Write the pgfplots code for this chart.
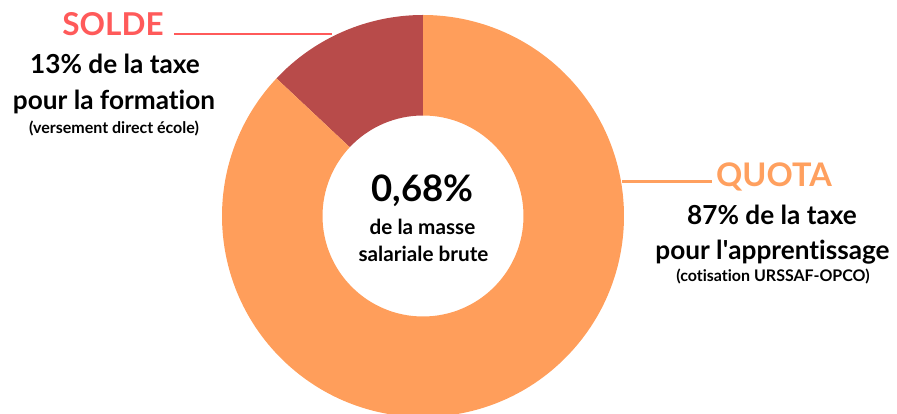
\documentclass[border=0pt]{standalone}
\usepackage{pgfplots}
\pgfplotsset{compat=1.18}
\usepackage{fontspec}
\setmainfont{Lato}[Ligatures={NoCommon}]
\definecolor{quota}{HTML}{FF9E5B}
\definecolor{solde}{HTML}{B84B4A}
\definecolor{soldetxt}{HTML}{FF5A5A}
\definecolor{quotatxt}{HTML}{FFA05F}
% data (share of the tax, %)
\def\valSolde{13}
\def\valQuota{87}
\pgfmathsetmacro{\aA}{90}
\pgfmathsetmacro{\aB}{90+3.6*\valSolde}
\pgfmathsetmacro{\aC}{\aB+3.6*\valQuota}
\def\cx{423}\def\cy{198}
\def\Ro{201pt}\def\Ri{100.5pt}
\begin{document}
\begin{tikzpicture}
\useasboundingbox (0,0) rectangle (897pt,414pt);
\clip (0,0) rectangle (897pt,414pt);
\begin{axis}[x=1pt,y=1pt,xmin=0,xmax=897,ymin=0,ymax=414,hide axis,clip=false,at={(0,0)},anchor=origin]
\fill[solde] ([shift={(\aA:\Ro)}]axis cs:\cx,\cy) arc[start angle=\aA,end angle=\aB,radius=\Ro]
  -- ([shift={(\aB:\Ri)}]axis cs:\cx,\cy) arc[start angle=\aB,end angle=\aA,radius=\Ri] -- cycle;
\fill[quota] ([shift={(\aB:\Ro)}]axis cs:\cx,\cy) arc[start angle=\aB,end angle=\aC,radius=\Ro]
  -- ([shift={(\aC:\Ri)}]axis cs:\cx,\cy) arc[start angle=\aC,end angle=\aB,radius=\Ri] -- cycle;
% leader lines
\draw[soldetxt,line width=2.6pt] (axis cs:174,380) -- (axis cs:332,380);
\draw[quotatxt,line width=2.6pt] (axis cs:622,232.3) -- (axis cs:712,232.3);
% left labels
\node[anchor=base,text=soldetxt,font=\fontsize{31.5}{36}\selectfont\bfseries,inner sep=0pt] at (axis cs:113,378) {SOLDE};
\node[anchor=base,font=\fontsize{26.2}{30}\selectfont\bfseries,inner sep=0pt] at (axis cs:115,340) {13\% de la taxe};
\node[anchor=base,font=\fontsize{26.2}{30}\selectfont\bfseries,inner sep=0pt] at (axis cs:114,304) {pour la formation};
\node[anchor=base,font=\fontsize{16}{18}\selectfont\bfseries,inner sep=0pt] at (axis cs:114,280.7) {(versement direct école)};
% right labels
\node[anchor=base,text=quotatxt,font=\fontsize{32.5}{36}\selectfont\bfseries,inner sep=0pt] at (axis cs:774,227.3) {QUOTA};
\node[anchor=base,font=\fontsize{26.2}{30}\selectfont\bfseries,inner sep=0pt] at (axis cs:772,189) {87\% de la taxe};
\node[anchor=base,font=\fontsize{26.2}{30}\selectfont\bfseries,inner sep=0pt] at (axis cs:772.5,154) {pour l\textquotesingle apprentissage};
\node[anchor=base,font=\fontsize{16}{18}\selectfont\bfseries,inner sep=0pt] at (axis cs:773,132) {(cotisation URSSAF-OPCO)};
% centre
\node[anchor=base,font=\fontsize{36.5}{40}\selectfont\bfseries,inner sep=0pt] at (axis cs:422.5,212.3) {0,68\%};
\node[anchor=base,font=\fontsize{20.7}{24}\selectfont\bfseries,inner sep=0pt] at (axis cs:422.5,179) {de la masse};
\node[anchor=base,font=\fontsize{20.7}{24}\selectfont\bfseries,inner sep=0pt] at (axis cs:423.5,152.3) {salariale brute};
\end{axis}
\end{tikzpicture}
\end{document}
